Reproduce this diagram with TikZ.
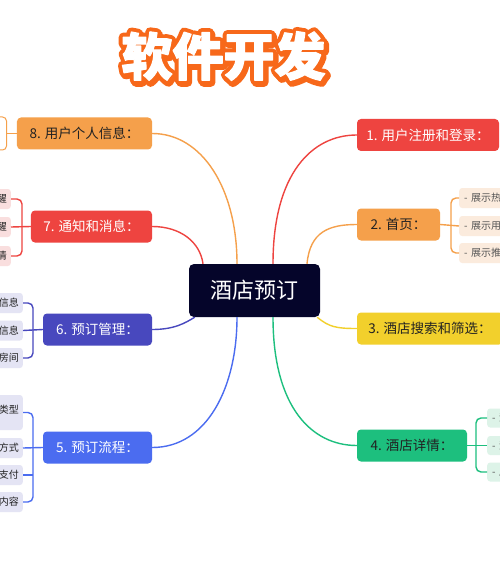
\documentclass[tikz,border=0pt]{standalone}
\usepackage{fontspec}
\newfontfamily\cjk{Noto Sans CJK SC}
\usetikzlibrary{calc}
\definecolor{cred}{HTML}{EE4440}
\definecolor{corange}{HTML}{F5A04B}
\definecolor{cyellow}{HTML}{F2D02C}
\definecolor{cgreen}{HTML}{1DBF7E}
\definecolor{cindigo}{HTML}{4848BE}
\definecolor{cblue}{HTML}{4B6CF0}
\definecolor{cnavy}{HTML}{05052A}
\definecolor{ctitle}{HTML}{F7681A}
\definecolor{cpeach}{HTML}{FBEBDD}
\definecolor{cmint}{HTML}{DDF3E8}
\definecolor{cpink}{HTML}{F9DEDE}
\definecolor{clav}{HTML}{E4E4F4}
\definecolor{cdark}{HTML}{222222}
\definecolor{csub}{HTML}{555555}
\newcommand{\strokedtext}[2]{\special{pdf:literal direct 1 j 1 J #1 w 2 Tr}#2\special{pdf:literal direct 0 Tr}}
\tikzset{
  mainbox/.style={rounded corners=4bp, inner sep=0pt, minimum height=32bp,
    font=\cjk\fontsize{13.5bp}{15bp}\selectfont},
  centerbox/.style={rounded corners=5bp, inner sep=0pt, minimum width=131bp,
    minimum height=53bp, fill=cnavy, text=white, font=\cjk\fontsize{22bp}{24bp}\selectfont},
  subR/.style={anchor=west, rounded corners=3bp, minimum height=20bp, text width=72bp,
    inner xsep=5bp, inner ysep=0pt, align=left, text=csub, font=\cjk\fontsize{10bp}{12bp}\selectfont},
  subL/.style={anchor=east, rounded corners=3bp, minimum height=20bp, text width=50bp,
    inner xsep=4bp, inner ysep=0pt, align=right, text=cdark, font=\cjk\fontsize{10bp}{12bp}\selectfont},
  conn/.style={line width=1.4bp},
  titletext/.style={font=\cjk\bfseries\fontsize{51bp}{53bp}\selectfont, inner sep=0pt}
}
\begin{document}
\begin{tikzpicture}[x=1bp,y=-1bp]
\useasboundingbox (0,0) rectangle (500,579);
\clip (0,0) rectangle (500,579);
\fill[white] (0,0) rectangle (500,579);

% title: orange shadow, orange outline, white letters
\coordinate (tpos) at (223.5,56);
\node[titletext, text=ctitle] (titleshadow) at ($(tpos)+(1.5,2)$) {\strokedtext{9}{软件开发}};
\node[titletext, text=ctitle] (titleoutline) at (tpos) {\strokedtext{9}{软件开发}};
\node[titletext, text=white] (title) at (tpos) {\strokedtext{1.2}{软件开发}};

% central node
\node[centerbox] (c) at (254.5,290.5) {酒店预订};

% main branches
\node[mainbox, fill=cred, text=white, minimum width=142bp] (m1) at (428,135) {1. 用户注册和登录：};
\node[mainbox, fill=corange, text=cdark, minimum width=83bp] (m2) at (398.5,224.5) {2. 首页：};
\node[mainbox, fill=cyellow, text=cdark, minimum width=146bp] (m3) at (430,328.5) {3. 酒店搜索和筛选：};
\node[mainbox, fill=cgreen, text=cdark, minimum width=110bp] (m4) at (412,445.5) {4. 酒店详情：};
\node[mainbox, fill=cblue, text=white, minimum width=109bp] (m5) at (97.5,447.5) {5. 预订流程：};
\node[mainbox, fill=cindigo, text=white, minimum width=109bp] (m6) at (97.5,329.5) {6. 预订管理：};
\node[mainbox, fill=cred, text=white, minimum width=121bp] (m7) at (91.5,226.5) {7. 通知和消息：};
\node[mainbox, fill=corange, text=cdark, minimum width=135bp] (m8) at (84.5,133.5) {8. 用户个人信息：};

% sub items
\node[subR, fill=cpeach] (s21) at (459,198) {- 展示热};
\node[subR, fill=cpeach] (s22) at (459,226) {- 展示用};
\node[subR, fill=cpeach] (s23) at (459,253) {- 展示推};

\node[subR, fill=cmint, minimum height=19bp] (s41) at (487,418) {- 酒};
\node[subR, fill=cmint, minimum height=19bp] (s42) at (487,445.5) {- 酒};
\node[subR, fill=cmint, minimum height=19bp] (s43) at (487,472) {- 房};

\node[anchor=east, draw=corange, fill=white, rounded corners=4bp, line width=1bp,
  minimum width=40bp, minimum height=33bp] (s81) at (7,133.5) {};

\node[subL, fill=cpink] (s71) at (11,199) {醒};
\node[subL, fill=cpink] (s72) at (11,227) {醒};
\node[subL, fill=cpink] (s73) at (11,256) {情};

\node[subL, fill=clav] (s61) at (23,303) {信息};
\node[subL, fill=clav] (s62) at (23,330.5) {信息};
\node[subL, fill=clav] (s63) at (23,358) {房间};

\node[subL, fill=clav, minimum height=35bp] (s51) at (23,412.5) {\raisebox{6bp}{类型}};
\node[subL, fill=clav] (s52) at (23,448) {方式};
\node[subL, fill=clav] (s53) at (23,475) {支付};
\node[subL, fill=clav] (s54) at (23,502) {内容};

% curved connectors from the centre
\draw[conn, cred] ($(c.north)+(18.5,0)$) .. controls +(0,-90) and +(-45,0) .. (m1.west);
\draw[conn, corange] ($(c.north)+(52.5,0)$) .. controls +(3,-32) and +(-28,0) .. (m2.west);
\draw[conn, cyellow] ($(c.south east)+(-3,0)$) .. controls +(12,10) and +(-20,0) .. (m3.west);
\draw[conn, cgreen] ($(c.south)+(18.5,0)$) .. controls +(0,90) and +(-45,0) .. (m4.west);
\draw[conn, cblue] (m5.east) .. controls +(55,0) and +(0,70) .. ($(c.south)+(-17.5,0)$);
\draw[conn, cindigo] (m6.east) .. controls +(22,0) and +(-10,6) .. ($(c.south west)+(6,0)$);
\draw[conn, cred] (m7.east) .. controls +(28,0) and +(-3,-22) .. ($(c.north)+(-51.5,0)$);
\draw[conn, corange] (m8.east) .. controls +(50,0) and +(0,-75) .. ($(c.north)+(-17.5,0)$);

% brackets
\draw[conn, corange] (m2.east) -- (s22.west);
\draw[conn, corange, rounded corners=5bp] (s21.west) -- ++(-8,0) |- (s23.west);

\draw[conn, cgreen] (m4.east) -- (s42.west);
\draw[conn, cgreen, rounded corners=5bp] (s41.west) -- ++(-11,0) |- (s43.west);

\draw[conn, corange] (m8.west) -- (s81.east);

\draw[conn, cred] (m7.west) -- (s72.east);
\draw[conn, cred, rounded corners=5bp] (s71.east) -- ++(11,0) |- (s73.east);

\draw[conn, cindigo] (m6.west) -- (s62.east);
\draw[conn, cindigo, rounded corners=5bp] (s61.east) -- ++(10,0) |- (s63.east);

\draw[conn, cblue] (m5.west) -- (s52.east);
\draw[conn, cblue] (s53.east) -- ++(10,0);
\draw[conn, cblue, rounded corners=5bp] (s51.east) -- ++(10,0) |- (s54.east);
\end{tikzpicture}
\end{document}
